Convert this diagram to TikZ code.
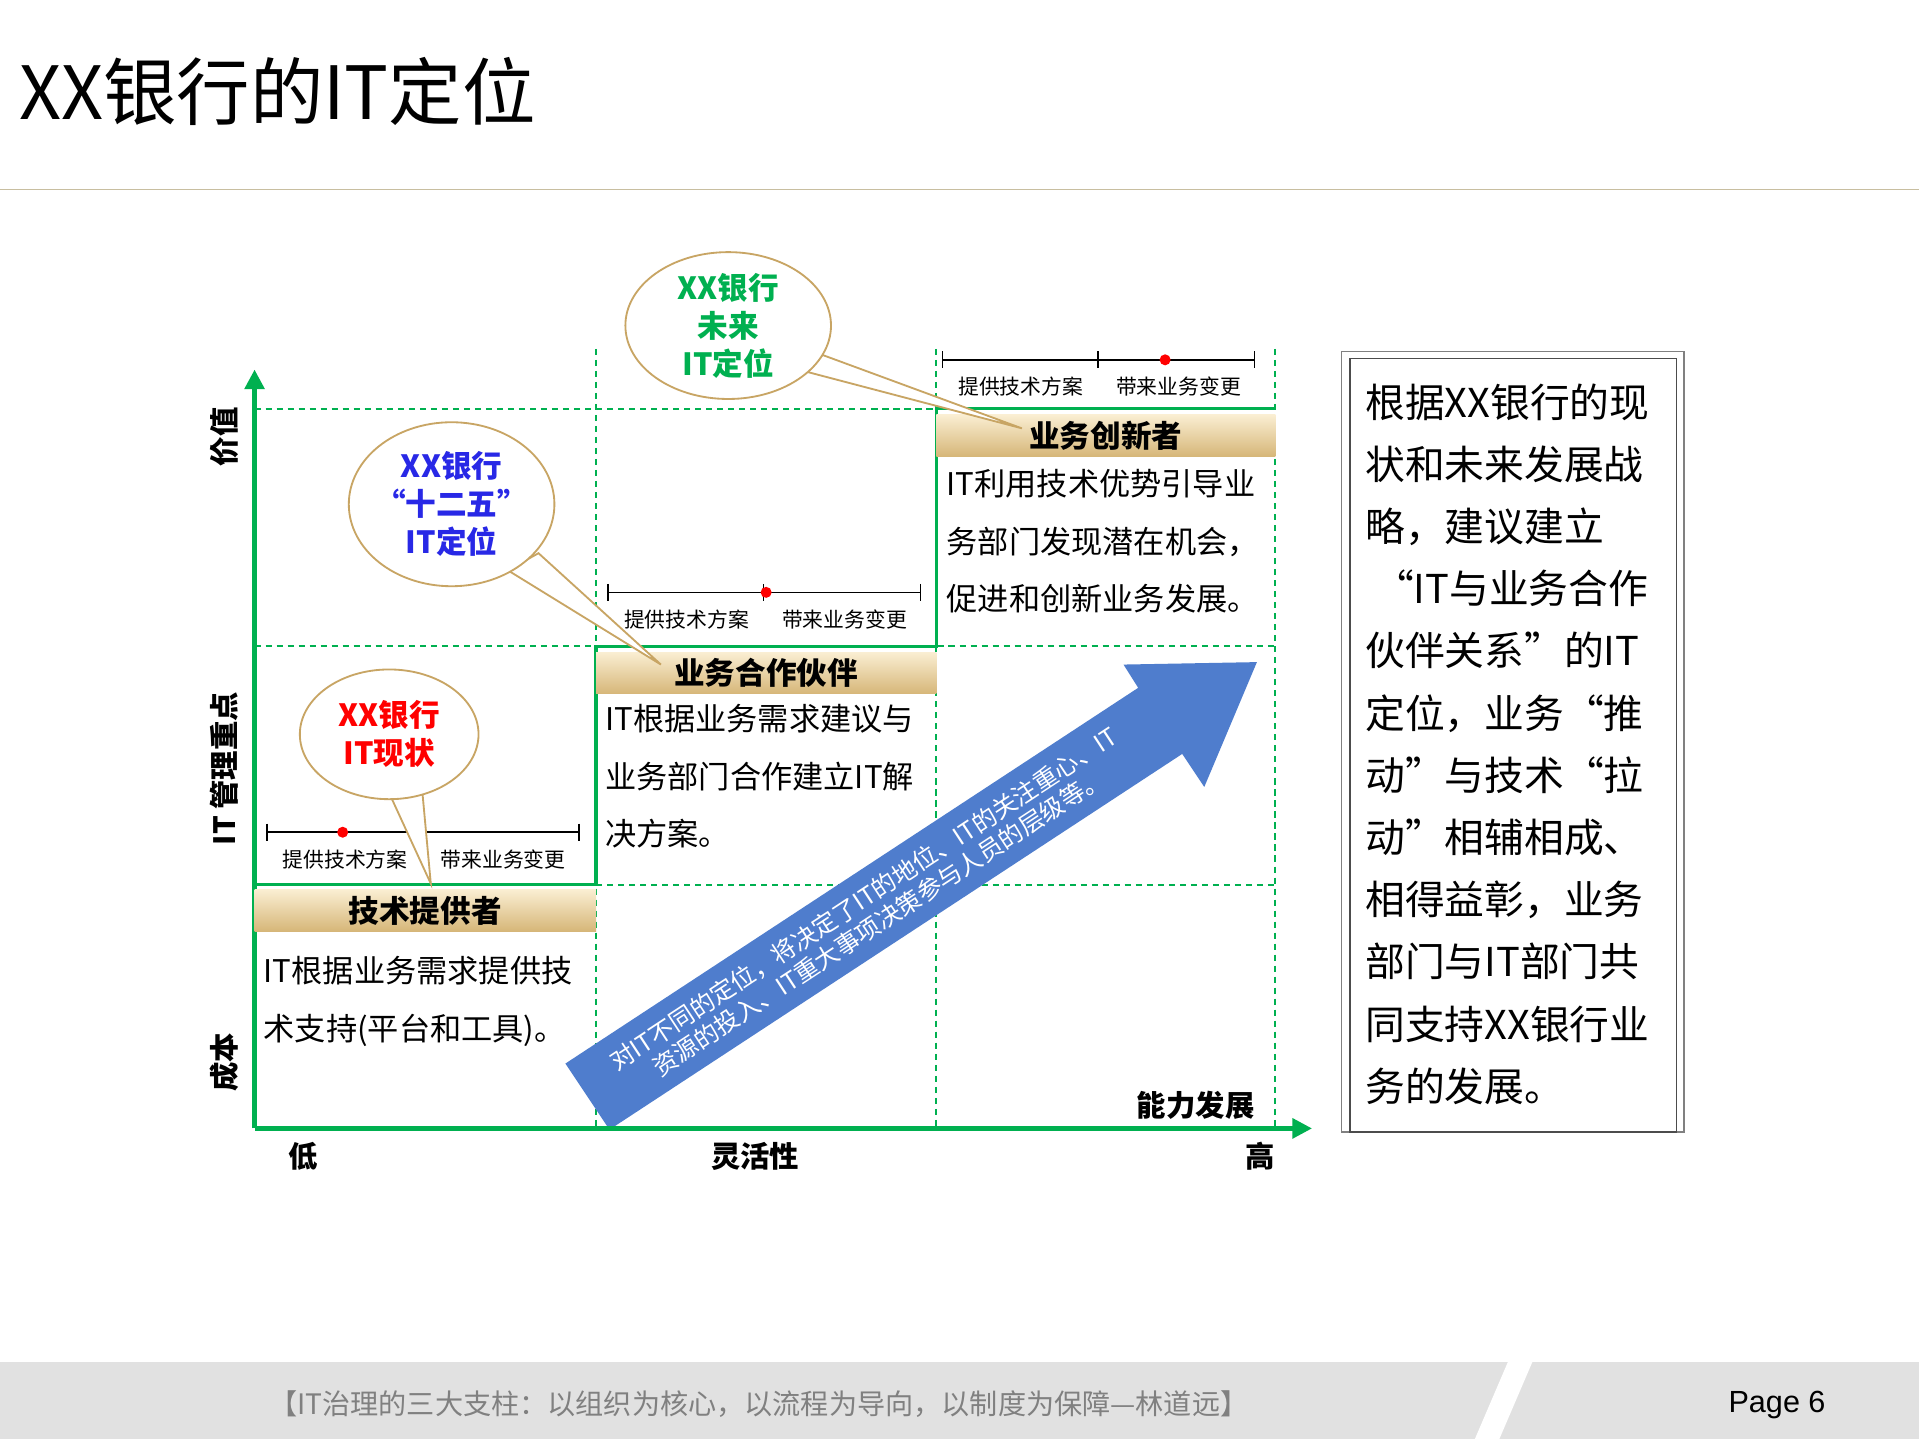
\documentclass[tikz,border=0pt]{standalone}
\usepackage{fontspec}
\setmainfont{Noto Sans CJK SC}
\newfontfamily\lat{Liberation Sans}
\usetikzlibrary{arrows.meta,calc,shapes.geometric}
\definecolor{gr}{RGB}{0,176,80}
\definecolor{tanl}{RGB}{250,238,210}
\definecolor{tand}{RGB}{214,182,120}
\definecolor{bub}{RGB}{200,165,100}
\definecolor{arr}{RGB}{79,125,205}
\definecolor{foot}{RGB}{225,225,225}
\tikzset{
 grid/.style={gr,dash pattern=on 5pt off 4pt,line width=1.3pt},
 stair/.style={gr,line width=2.5pt},
 bar/.style={top color=tanl,bottom color=tand,draw=none,minimum height=34pt,font=\fontsize{25}{27}\selectfont\bfseries},
 body/.style={align=left,anchor=north west,font=\fontsize{25.5}{47}\selectfont},
 bubble/.style={ellipse,draw=bub,fill=white,line width=1.5pt},
 btxt/.style={align=center,font=\fontsize{25}{31}\selectfont\bfseries},
 sc/.style={line width=1.3pt},
 sl/.style={font=\fontsize{17}{19}\selectfont},
 ax/.style={font=\fontsize{24}{26}\selectfont\bfseries},
}
\begin{document}
\begin{tikzpicture}[x=1pt,y=-1pt]
\useasboundingbox (0,0) rectangle (1568,1176);
\fill[white] (0,0) rectangle (1568,1176);
\node[anchor=west,font=\fontsize{60}{64}\selectfont] (title) at (12,75) {XX银行的IT定位};
\draw[color={rgb,255:red,200;green,190;blue,160},line width=1.2pt] (0,155) -- (1568,155);
% footer
\fill[foot] (0,1113) rectangle (1568,1176);
\fill[white] (1205,1176) -- (1232,1113) -- (1252,1113) -- (1225,1176) -- cycle;
\node[font=\fontsize{23}{25}\selectfont,text=gray] (ft) at (620,1147) {【IT治理的三大支柱：以组织为核心，以流程为导向，以制度为保障—林道远】};
\node[font=\lat\fontsize{25}{27}\selectfont] (pg) at (1452,1148) {Page 6};
% grid
\foreach \y in {334,528,723} \draw[grid] (208,\y) -- (1042,\y);
\foreach \x in {487,765,1042} \draw[grid] (\x,285) -- (\x,922);
% blue arrow
\fill[arr] (462,869) -- (930,562) -- (918,543) -- (1027,541) -- (984,643) -- (966,616) -- (498,923) -- cycle;
\node[rotate=33.3,text=white,align=center,font=\fontsize{20}{23}\selectfont] (at) at (712,744) {对IT不同的定位，将决定了IT的地位、IT的关注重心、IT\\资源的投入、IT重大事项决策参与人员的层级等。};
% axes
\coordinate (o) at (208,922);
\draw[gr,line width=3.5pt,-{Triangle[length=16pt,width=16pt]}] (o) -- (208,302);
\draw[gr,line width=3.5pt,-{Triangle[length=16pt,width=16pt]}] (o) -- (1072,922);
\draw[stair] (208,723) -- (487,723) -- (487,528) -- (765,528) -- (765,334) -- (1042,334);
% bars
\node[bar,minimum width=279pt] (b1) at (347.5,744) {技术提供者};
\node[bar,minimum width=278pt] (b2) at (626,550) {业务合作伙伴};
\node[bar,minimum width=277pt] (b3) at (903.5,356) {业务创新者};
\node[body] (t1) at (212,778) {IT根据业务需求提供技\\术支持(平台和工具)。};
\node[body] (t2) at (491,572) {IT根据业务需求建议与\\业务部门合作建立IT解\\决方案。};
\node[body] (t3) at (770,380) {IT利用技术优势引导业\\务部门发现潜在机会，\\促进和创新业务发展。};
% scales
\foreach \x/\y/\d in {218/680/280, 497/484/626, 770/294/952}{
 \draw[sc] (\x,\y) -- ++(255,0);
 \draw[sc] (\x,\y-7) -- (\x,\y+7);
 \draw[sc] (\x+127,\y-7) -- (\x+127,\y+7);
 \draw[sc] (\x+255,\y-7) -- (\x+255,\y+7);
 \fill[red] (\d,\y) circle (4.5pt);
 \node[sl] at (\x+64,\y+22) {提供技术方案};
 \node[sl] at (\x+193,\y+22) {带来业务变更};
}
% bubbles
\fill[white,draw=bub,line width=1.5pt] (318,648) -- (352,722) -- (345,646) -- cycle;
\node[bubble,minimum width=146pt,minimum height=106pt] (e1) at (318,600) {};
\node[btxt,text=red] at (318,600) {XX银行\\IT现状};
\fill[white,draw=bub,line width=1.5pt] (415,466) -- (540,543) -- (440,452) -- cycle;
\node[bubble,minimum width=168pt,minimum height=134pt] (e2) at (369,412) {};
\node[btxt,text={rgb,255:red,40;green,40;blue,230}] at (369,412) {XX银行\\“十二五”\\IT定位};
\fill[white,draw=bub,line width=1.5pt] (660,304) -- (835,350) -- (672,290) -- cycle;
\node[bubble,minimum width=168pt,minimum height=120pt] (e3) at (595,266) {};
\node[btxt,text=gr] at (595,266) {XX银行\\未来\\IT定位};
% axis labels
\node[ax,rotate=90] (l1) at (183,357) {价值};
\node[ax,rotate=90] (l2) at (183,628) {IT 管理重点};
\node[ax,rotate=90] (l3) at (183,868) {成本};
\node[ax] (l4) at (248,945) {低};
\node[ax] (l5) at (617,945) {灵活性};
\node[ax] (l6) at (1030,945) {高};
\node[ax] (l7) at (977,903) {能力发展};
% right box
\draw[gray,line width=1pt] (1096,287) rectangle (1376,925);
\draw[black!70,line width=1.2pt] (1103,293) rectangle (1370,925);
\node[anchor=north west,align=left,font=\fontsize{32.5}{50.8}\selectfont] (rb) at (1112,310) {根据XX银行的现\\状和未来发展战\\略，建议建立\\\ “IT与业务合作\\伙伴关系”的IT\\定位，业务“推\\动”与技术“拉\\动”相辅相成、\\相得益彰，业务\\部门与IT部门共\\同支持XX银行业\\务的发展。};
\end{tikzpicture}
\end{document}
